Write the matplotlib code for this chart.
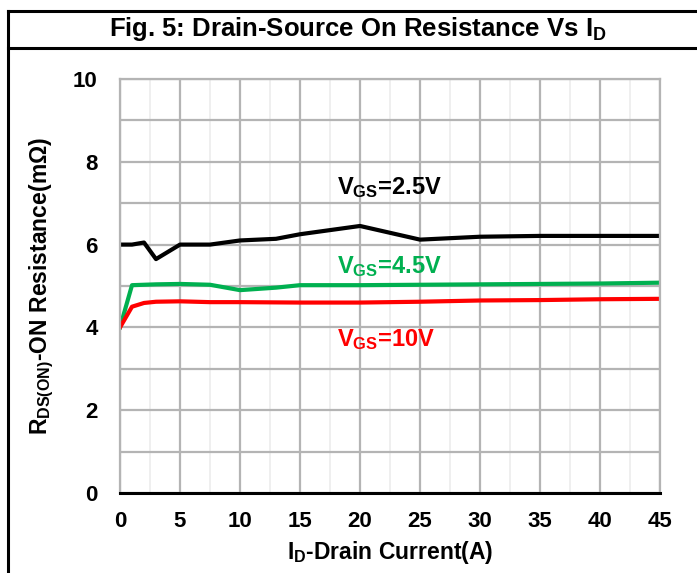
import matplotlib
matplotlib.use("Agg")
import matplotlib.pyplot as plt
from matplotlib.lines import Line2D

plt.rcParams['font.family'] = ['Liberation Sans Narrow', 'Liberation Sans', 'DejaVu Sans']
plt.rcParams['font.weight'] = 'bold'
plt.rcParams['axes.labelweight'] = 'bold'
plt.rcParams['mathtext.default'] = 'regular'

# data (I_D in A, R in mOhm)
id_25 = [0, 1, 2, 3, 5, 7.5, 10, 13, 15, 20, 25, 30, 35, 40, 45]
r_25 = [6.0, 6.0, 6.05, 5.65, 6.0, 6.0, 6.1, 6.14, 6.25, 6.45, 6.12, 6.19, 6.21, 6.21, 6.21]

id_45 = [0, 1, 3, 5, 7.5, 10, 13, 15, 20, 25, 30, 35, 40, 45]
r_45 = [4.0, 5.02, 5.04, 5.05, 5.03, 4.9, 4.96, 5.02, 5.02, 5.03, 5.04, 5.05, 5.06, 5.08]

id_10 = [0, 1, 2, 3, 5, 7.5, 10, 15, 20, 25, 30, 35, 40, 45]
r_10 = [4.0, 4.5, 4.59, 4.62, 4.63, 4.61, 4.61, 4.6, 4.6, 4.62, 4.65, 4.66, 4.68, 4.69]

x_ticks = [0, 5, 10, 15, 20, 25, 30, 35, 40, 45]
y_ticks = [0, 2, 4, 6, 8, 10]

fig = plt.figure(figsize=(6.97, 5.73), dpi=100)
ax = fig.add_axes([120 / 697, 1 - 493 / 573, 540 / 697, 414 / 573])

ax.plot(id_25, r_25, color="black", lw=3)
ax.plot(id_45, r_45, color="#00b050", lw=3)
ax.plot(id_10, r_10, color="#ff0000", lw=3)

ax.set_xlim(0, 45)
ax.set_ylim(0, 10)
ax.set_xticks(x_ticks)
ax.set_yticks(y_ticks)
ax.set_xticks([2.5 + 5 * i for i in range(9)], minor=True)
ax.set_yticks(range(11), minor=True)
ax.grid(True, which="major", color="#b4b4b4", lw=1.6)
ax.grid(True, which="minor", axis="y", color="#b4b4b4", lw=1.6)
ax.grid(True, which="minor", axis="x", color="#ececec", lw=1.2)
ax.set_axisbelow(True)
ax.tick_params(which="both", length=0, labelsize=16)
ax.tick_params(axis="x", pad=13)
ax.tick_params(axis="y", pad=16)
for s in ["left", "top", "right"]:
    ax.spines[s].set_color("#b4b4b4")
    ax.spines[s].set_linewidth(1.6)
ax.spines["bottom"].set_color("black")
ax.spines["bottom"].set_linewidth(2.2)

ax.set_xlabel("I$_D$-Drain Current(A)", fontsize=16.5, labelpad=5)
ax.set_ylabel("R$_{DS(ON)}$-ON Resistance(m\u03a9)", fontsize=16.5, labelpad=12)

ax.text(18.1, 7.37, "V$_{GS}$=2.5V", color="black", fontsize=17, va="center")
ax.text(18.1, 5.46, "V$_{GS}$=4.5V", color="#00b050", fontsize=17, va="center")
ax.text(18.1, 3.7, "V$_{GS}$=10V", color="#ff0000", fontsize=17, va="center")

fig.text(0.513, 1 - 29 / 573, "Fig. 5: Drain-Source On Resistance Vs I$_D$",
         fontsize=18.5, ha="center", va="center")

# frame around the figure
H = 573.0
fig.add_artist(Line2D([8 / 697, 1], [1 - 11 / H, 1 - 11 / H], color="black", lw=2.2))
fig.add_artist(Line2D([8 / 697, 1], [1 - 48 / H, 1 - 48 / H], color="black", lw=2.2))
fig.add_artist(Line2D([8 / 697, 8 / 697], [0, 1 - 11 / H], color="black", lw=2.2))

fig.savefig("out.png", dpi=100)
